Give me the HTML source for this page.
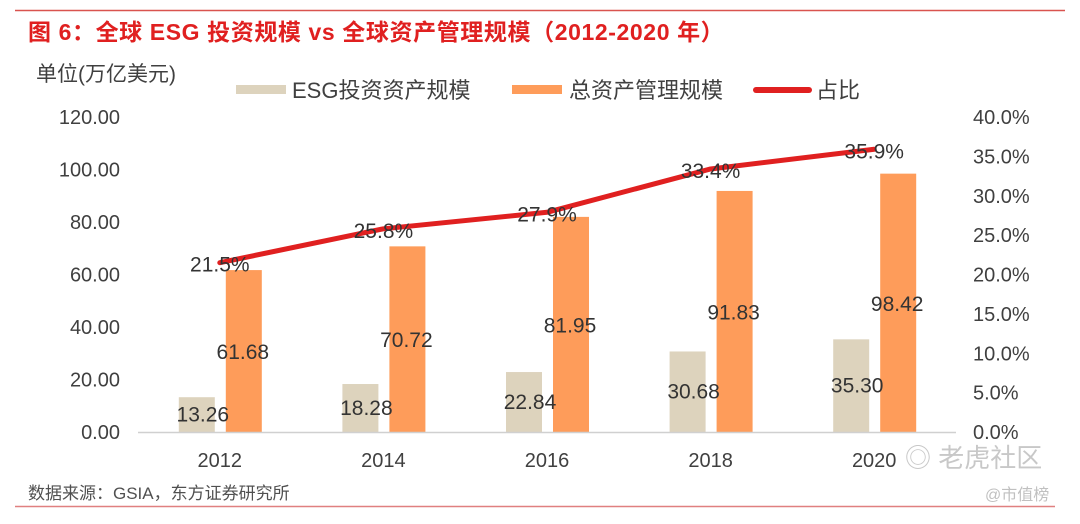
<!DOCTYPE html>
<html><head><meta charset="utf-8"><style>
body{margin:0;background:#fff;}
svg text{font-family:"Liberation Sans","Noto Sans CJK SC",sans-serif;}
</style></head><body>
<svg width="1080" height="519" viewBox="0 0 1080 519" xmlns="http://www.w3.org/2000/svg">
<line x1="15" y1="10.5" x2="1065" y2="10.5" stroke="#d9534f" stroke-width="1.5"/>
<text x="28" y="40" font-size="23" font-weight="bold" fill="#e02020" letter-spacing="0.6">图 6：全球 ESG 投资规模 vs 全球资产管理规模（2012-2020 年）</text>
<text x="36" y="81" font-size="21" fill="#404040">单位(万亿美元)</text>
<g>
<rect x="236" y="85" width="50" height="9" fill="#ddd3bd"/>
<text x="292" y="98" font-size="22" fill="#404040">ESG投资资产规模</text>
<rect x="512" y="85" width="50" height="9" fill="#fe9c5a"/>
<text x="569" y="98" font-size="22" fill="#404040">总资产管理规模</text>
<line x1="756" y1="90" x2="809" y2="90" stroke="#e02020" stroke-width="6" stroke-linecap="round"/>
<text x="816" y="98" font-size="22" fill="#404040">占比</text>
</g>
<g id="plot"></g>
<text x="28" y="499" font-size="17" fill="#505050">数据来源：GSIA，东方证券研究所</text>
<text x="905" y="467" font-size="26" fill="#c8c8c8">◎ 老虎社区</text>
<text x="985" y="500" font-size="16" fill="#c0c0c0">@市值榜</text>
<line x1="15" y1="506.5" x2="1055" y2="506.5" stroke="#e08080" stroke-width="1.5"/>
</svg>
<script>
const categories=["2012","2014","2016","2018","2020"];
const esgValues=[13.26,18.28,22.84,30.68,35.30];
const aumValues=[61.68,70.72,81.95,91.83,98.42];
const ratioValues=[21.5,25.8,27.9,33.4,35.9];
const leftTicks=[0,20,40,60,80,100,120];
const rightTicks=[0,5,10,15,20,25,30,35,40];
const NS="http://www.w3.org/2000/svg";
const g=document.getElementById('plot');
const x0=138,x1=956,yb=432,yt=117;
const band=(x1-x0)/categories.length;
const xc=i=>x0+band*(i+0.5);
const yL=v=>yb-(v/120)*(yb-yt);
const yR=v=>yb-(v/40)*(yb-yt);
function mk(tag,attrs,txt){const e=document.createElementNS(NS,tag);for(const k in attrs)e.setAttribute(k,attrs[k]);if(txt!==undefined)e.textContent=txt;g.appendChild(e);return e;}
leftTicks.forEach(t=>{const e=mk('text',{x:120,y:yL(t)+7,'font-size':20,fill:'#404040','text-anchor':'end'},t.toFixed(2));

});
rightTicks.forEach(t=>{const e=mk('text',{x:973,y:yR(t)+7,'font-size':20,fill:'#404040'},t.toFixed(1)+'%');

});
categories.forEach((c,i)=>{
const cx=xc(i);
const b1=mk('rect',{x:cx-41,y:yL(esgValues[i]),width:36,height:yb-yL(esgValues[i]),fill:'#ddd3bd'});


const b2=mk('rect',{x:cx+6,y:yL(aumValues[i]),width:36,height:yb-yL(aumValues[i]),fill:'#fe9c5a'});


const l1=mk('text',{x:cx-17,y:yL(esgValues[i]/2)+7,'font-size':21,fill:'#333','text-anchor':'middle'},esgValues[i].toFixed(2));


const l2=mk('text',{x:cx+23,y:yL(aumValues[i]/2)+8,'font-size':21,fill:'#333','text-anchor':'middle'},aumValues[i].toFixed(2));


const xl=mk('text',{x:cx,y:467,'font-size':20,fill:'#404040','text-anchor':'middle'},c);


});
const ax=mk('line',{x1:x0,y1:yb+0.5,x2:x1,y2:yb+0.5,stroke:'#d0d0d0','stroke-width':1.5});


const pts=ratioValues.map((v,i)=>(xc(i))+','+yR(v)).join(' ');
const pl=mk('polyline',{points:pts,fill:'none',stroke:'#e02020','stroke-width':5,'stroke-linejoin':'round','stroke-linecap':'round'});


ratioValues.forEach((v,i)=>{const t=mk('text',{x:xc(i),y:yR(v)+9,'font-size':21,fill:'#333','text-anchor':'middle'},v.toFixed(1)+'%');

});
</script>
</body></html>
